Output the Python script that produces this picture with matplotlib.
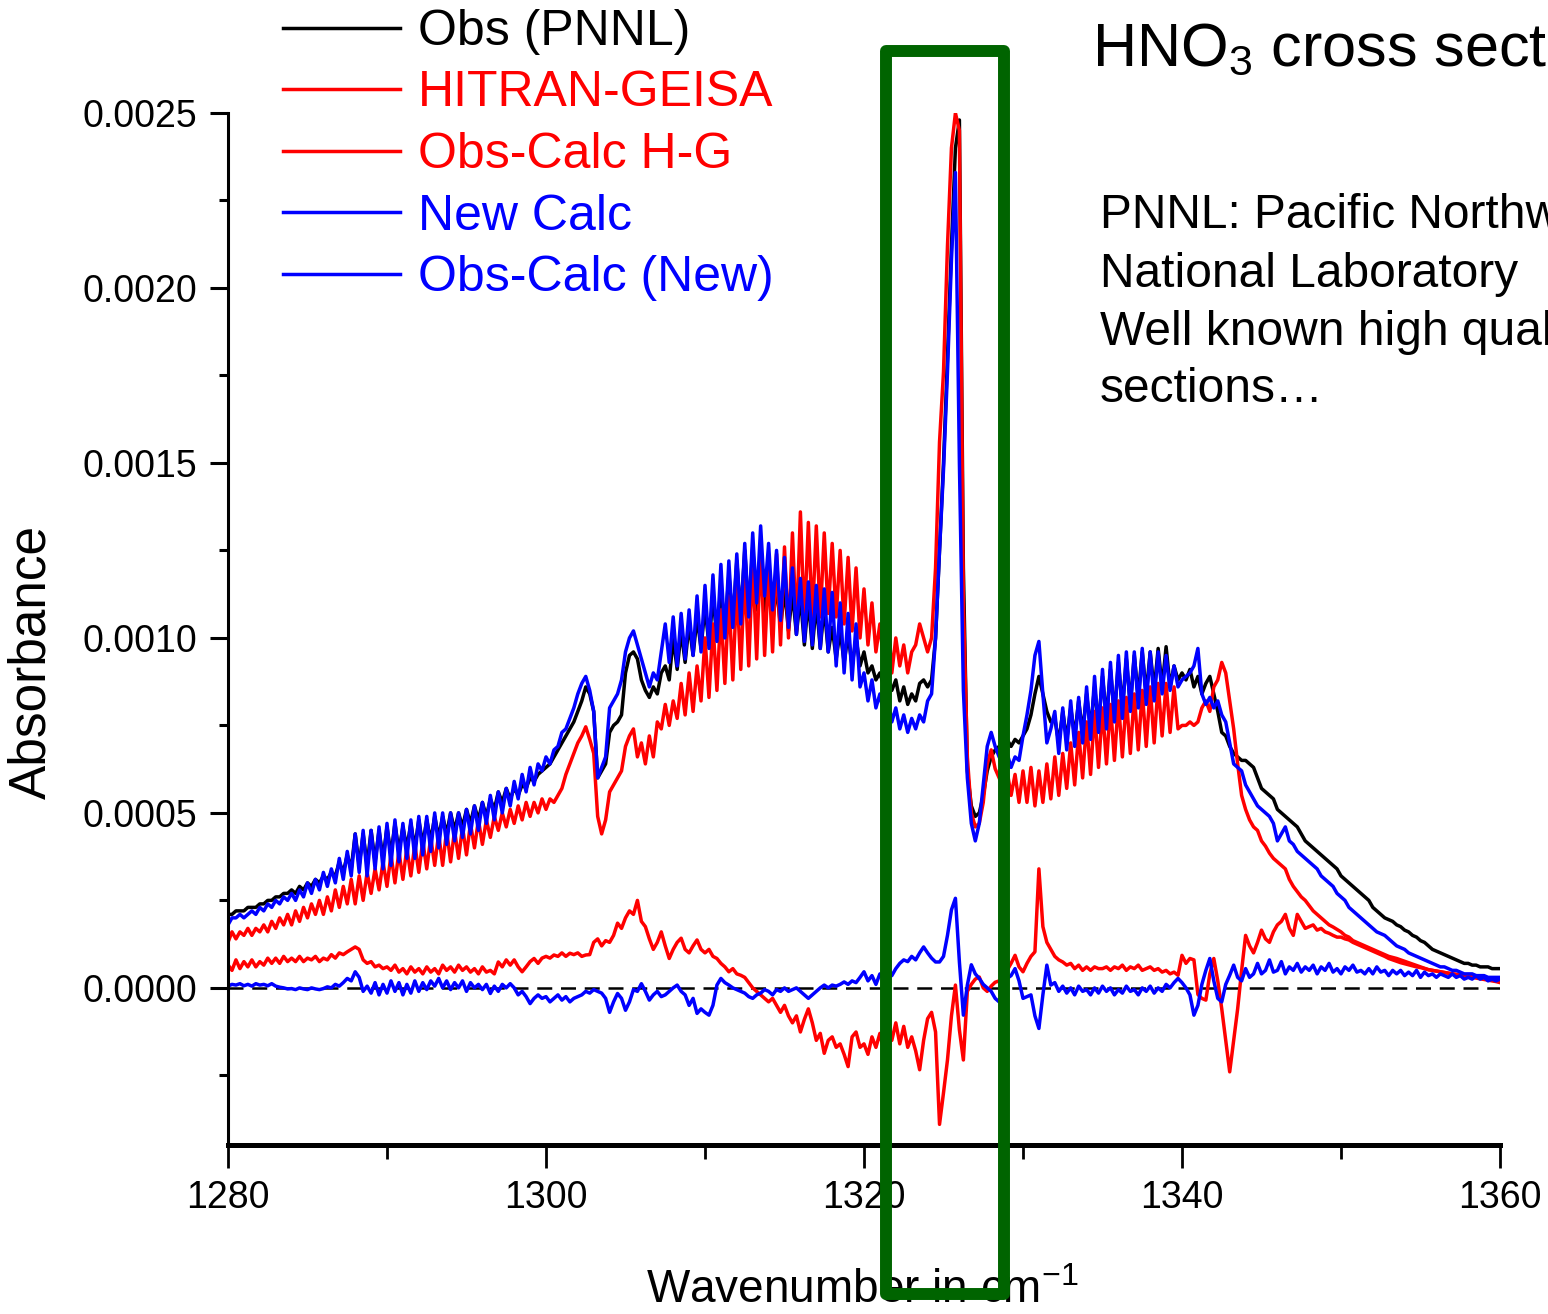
import numpy as np
import matplotlib
matplotlib.use("Agg")
import matplotlib.pyplot as plt
from matplotlib.patches import Rectangle
from matplotlib.ticker import MultipleLocator, FormatStrFormatter

plt.rcParams['font.family'] = ['Liberation Sans', 'DejaVu Sans']
plt.rcParams['mathtext.fontset'] = 'custom'
plt.rcParams['mathtext.rm'] = 'Liberation Sans'
plt.rcParams['mathtext.it'] = 'Liberation Sans:italic'
plt.rcParams['mathtext.bf'] = 'Liberation Sans:bold'

# ---------------- data (absorbance in units of 1e-5), grid: 1280 .. 1360 step 0.25 cm-1
WN_START = 1280.0
WN_STEP = 0.25

obs_pnnl = [
    21, 21, 22, 22, 22, 23, 23, 23,
    24, 24, 25, 25, 26, 26, 27, 27,
    28, 27, 29, 28, 30, 29, 31, 30,
    32, 31, 33, 32, 36, 33, 38, 34,
    44, 35, 44, 35, 45, 36, 45, 37,
    46, 38, 47, 39, 46, 40, 47, 40,
    48, 41, 48, 42, 49, 43, 49, 44,
    50, 45, 50, 46, 51, 47, 52, 48,
    53, 49, 54, 51, 56, 53, 57, 54,
    57, 55, 58, 57, 60, 59, 61, 62,
    63, 64, 66, 68, 70, 72, 74, 76,
    79, 82, 86, 84, 79, 60, 62, 64,
    73, 75, 76, 78, 90, 95, 96, 94,
    88, 85, 83, 86, 84, 90, 92, 88,
    100, 91, 102, 93, 104, 95, 106, 97,
    109, 98, 112, 100, 115, 102, 118, 104,
    122, 106, 125, 107, 126, 108, 124, 106,
    116, 104, 115, 103, 114, 102, 113, 101,
    112, 98, 111, 97, 110, 97, 109, 96,
    103, 94, 102, 93, 101, 92, 100, 92,
    96, 90, 92, 88, 90, 86, 89, 85,
    88, 82, 86, 81, 84, 82, 87, 88,
    86, 88, 100, 125, 150, 180, 212, 240,
    248, 120, 62, 52, 49, 50, 55, 62,
    66, 68, 69, 70, 71, 69, 71, 70,
    72, 74, 78, 84, 89, 84, 79, 76,
    77, 70, 79, 71, 80, 72, 82, 73,
    84, 74, 86, 75, 89, 77, 91, 78,
    93, 80, 94, 81, 95, 83, 96, 84,
    96, 85, 97, 86, 97.5, 86, 92, 88,
    90, 88, 91, 86, 89, 84, 87, 89,
    84, 79, 73, 72, 69, 67, 66, 65,
    65, 64, 63, 60, 57, 56, 55, 54,
    51, 50, 49, 48, 47, 46, 44, 42,
    41, 40, 39, 38, 37, 36, 35, 34,
    32, 31, 30, 29, 28, 27, 26, 25,
    23, 22, 21, 20, 19.5, 19, 18, 17.5,
    16.5, 16, 15, 14.5, 13.5, 13, 12, 11,
    10.5, 10, 9.5, 9, 8.5, 8, 7.5, 7,
    7, 6.5, 6.5, 6, 6, 6, 5.5, 5.5,
    5.5,
]

hitran_geisa = [
    13, 16, 14, 16, 15, 17, 15, 17,
    16, 18, 16, 19, 17, 20, 18, 21,
    18, 22, 19, 23, 20, 24, 21, 25,
    21, 26, 22, 28, 23, 29, 24, 31,
    24, 32, 25, 33, 27, 34, 28, 36,
    29, 38, 30, 39, 31, 40, 32, 41,
    33, 42, 34, 43, 35, 44, 35, 45,
    36, 45, 37, 46, 38, 47, 40, 48,
    41, 48, 43, 49, 45, 50, 46, 51,
    47, 52, 48, 53, 49, 53, 50, 54,
    51, 54, 53, 55, 57, 61, 64, 67,
    70, 72, 74.6, 71, 67, 49, 44, 48,
    56, 58, 60, 62, 69, 72, 74, 66,
    70, 64, 72, 66, 76, 74, 81, 75,
    82, 77, 87, 78, 90, 79, 92, 82,
    100, 83, 104, 85, 108, 87, 112, 88,
    115, 91, 119, 92, 122, 94, 126, 95,
    120, 96, 124, 98, 126, 100, 130, 102,
    136, 104, 133, 105, 132, 106, 130, 107,
    127, 106, 125, 104, 123, 102, 120, 100,
    114, 98, 110, 96, 104, 92, 107, 90,
    100, 92, 98, 90, 96, 98, 104, 100,
    96, 100, 120, 156, 176, 212, 240, 250,
    245, 110, 66, 50, 46, 47, 53, 64,
    68, 62.6, 60, 57, 62, 55, 61, 53,
    62, 53, 63, 52, 62, 53, 64, 54,
    66, 55, 67, 57, 70, 58, 73, 60,
    76, 61, 79, 63, 80, 64, 81, 65,
    82, 66, 83, 67, 84, 68, 85, 69,
    86, 70, 87, 72, 87, 73, 86, 74,
    75, 75, 76, 75, 76, 80, 82, 79,
    86, 88, 93, 90, 82, 74, 64, 55,
    51, 48, 46, 45, 42, 40.5, 38.5, 37,
    36, 35, 34, 31, 29, 27.5, 26, 25,
    23.5, 22, 21, 20, 19, 18, 17.4, 16.7,
    16, 15, 14.5, 13.5, 13, 12.5, 12, 11.5,
    11, 10.5, 10, 9.5, 9, 8.7, 8.4, 8,
    7.6, 7.2, 6.8, 6.4, 6, 5.6, 5.2, 5,
    4.8, 4.6, 4.4, 4.2, 4, 3.8, 3.6, 3.4,
    3.2, 3, 2.8, 2.6, 2.4, 2.2, 2, 1.8,
    1.5,
]

resid_hg = [
    6.6, 5, 8, 5.5, 7.5, 6, 8, 6,
    7.5, 6.5, 8.5, 7, 8.5, 7, 9, 7.5,
    8.5, 7.5, 9, 7.5, 8.5, 8, 9, 7.5,
    8.5, 8, 9.5, 8.5, 10, 9.5, 10.3, 11,
    11.7, 11, 8, 7, 7.5, 6, 6.5, 5.5,
    6, 5, 6.5, 4.5, 5.5, 4, 6, 4.5,
    5.5, 4, 6, 4.5, 5.5, 4, 6.5, 5,
    6, 4.5, 6.5, 5, 6, 4.5, 5.5, 4,
    6, 4.5, 5, 4, 7.4, 6, 8, 6.5,
    8, 6, 4.6, 6, 7.5, 8.4, 7, 8.5,
    9, 8.5, 9.4, 9, 10, 9, 9.9, 9.5,
    10, 9, 9.4, 9.5, 13, 14, 12, 13.5,
    13, 15, 18.5, 17, 20, 22, 21, 25,
    19, 17.5, 14, 11, 13, 16, 12, 8.4,
    11, 13, 14.2, 11, 10, 12, 13.7, 11,
    10, 11, 9, 8.4, 7, 6, 4.6, 5.5,
    4, 3.6, 3, 1.5, 0, -1, -2, -3,
    -4, -3, -5, -7, -5, -8, -10, -8,
    -12.6, -9, -6, -10, -15, -13, -18.7, -15,
    -14, -17, -16, -19, -22.5, -14, -12.6, -17,
    -16, -19, -14, -17, -13, -18, -12, -15,
    -10, -16, -11, -17, -14, -18, -23.4, -15,
    -8.8, -7, -12.6, -39, -30, -20.6, -8, 0.8,
    -12, -20.6, -1, 1, 2.5, 3.1, 0, -1,
    0.5, 1.6, 2, 3, 5, 7, 9.3, 6,
    4.6, 7, 9, 10.3, 34, 17.5, 13, 11,
    9, 8, 7.4, 6.5, 7, 5.5, 6.5, 5,
    6, 5, 6, 5.5, 5.5, 6, 5, 6,
    5.5, 6.5, 5, 6, 5.5, 6.5, 5, 5.5,
    6, 5, 5.5, 4.5, 5, 4, 4.5, 3.6,
    9.3, 7, 8.4, 8, -1.9, -3, -3.5, 4,
    8.4, 2, -6, -15, -24, -15, -6, 5,
    15, 12, 10, 13, 16.5, 14, 13, 16,
    18, 19, 21, 17, 15, 21, 19, 17,
    17.5, 18, 16.5, 17, 16, 15.6, 15, 14.5,
    14.5, 14, 13.7, 13, 12.5, 12, 11.5, 11,
    10.5, 10, 9.5, 9, 8.4, 8, 7.6, 7.2,
    6.9, 6.6, 6.3, 6, 5.8, 5.5, 5.2, 5,
    4.8, 4.6, 4.4, 4.2, 4, 3.9, 3.8, 3.7,
    3.6, 3.4, 3.2, 3, 2.8, 2.5, 2.2, 2,
    1.9,
]

new_calc = [
    18, 20, 20, 21, 20, 21, 22, 21,
    23, 22, 24, 23, 25, 24, 26, 25,
    27, 25, 28, 26, 30, 27, 31, 28,
    33, 29, 34, 30, 37, 31, 39, 32,
    44, 33, 45, 32, 45, 34, 46, 34,
    47, 35, 48, 36, 47, 37, 48, 37,
    49, 38, 49, 39, 50, 40, 50, 41,
    50, 42, 50, 43, 51, 44, 52, 45,
    53, 47, 55, 48, 56, 50, 57, 52,
    59, 54, 61, 56, 63, 58, 64, 62,
    66, 64, 68, 69, 73, 74, 77, 80,
    84, 87, 89, 85, 79, 60, 63, 66,
    80, 82, 84, 88, 96, 100, 102, 98,
    94, 90, 86, 90, 88, 96, 104, 93,
    106, 92, 107, 94, 108, 95, 112, 96,
    115, 97, 118, 99, 121, 100, 122, 103,
    124, 104, 127, 106, 130, 110, 132, 112,
    127, 108, 125, 105, 123, 103, 120, 101,
    117, 99, 116, 98, 115, 97, 114, 96,
    113, 92, 110, 90, 107, 88, 104, 86,
    90, 82, 88, 80, 84, 78, 83, 76,
    80, 74, 78, 73, 77, 74, 78, 76,
    82, 84, 100, 125, 148, 176, 208, 233,
    150, 85, 60, 47, 42, 47, 58, 69,
    73, 69, 66, 64, 67, 63, 66, 65,
    72, 78, 85, 95, 99, 84, 70, 74,
    79, 67, 80, 68, 82, 69, 83, 70,
    86, 71, 89, 73, 91, 74, 93, 76,
    95, 77, 96, 79, 96, 80, 97, 81,
    96, 82, 96, 84, 95, 85, 92, 86,
    88, 89, 90, 92, 97, 84, 81, 83,
    80, 82, 78, 76, 70, 64, 63, 62,
    58, 56, 54, 52, 51, 50, 49, 47,
    42, 44, 46, 42, 41, 39, 38, 37,
    36, 35, 34, 32, 31, 30, 29, 27,
    26, 25, 23, 22, 21, 20, 19, 18,
    17, 16, 15.5, 15, 14, 13, 12, 11.5,
    11, 10, 9.5, 9, 8.5, 8, 7.5, 7,
    6.5, 6, 6, 5.5, 5, 5, 4.5, 4,
    4, 4, 3.5, 3.5, 3.5, 3, 3, 3,
    3,
]

resid_new = [
    0.5, 1, 0.8, 1.2, 0.6, 1, 0.5, 1.2,
    0.8, 1, 0.6, 1.2, 0.5, 0.2, 0, -0.3,
    -0.2, -0.5, 0, -0.3, -0.5, 0, -0.3, -0.5,
    -0.2, 0.3, 0, 1, 0.5, 1.5, 2.7, 2,
    4.6, 3, -1, 0.5, -1.5, 1.5, -2, 1,
    -1.5, 2, -1, 1.5, -2, 1, -1.5, 2,
    -1, 1.5, -0.5, 2, 0.5, 2.7, 0, 2,
    -0.5, 1.5, 0, 2, -1, 1.5, 0, 1,
    -0.5, 1, -1.6, 0.5, -1, 1, 0, 1.2,
    0, -2, -1, -2.5, -4.5, -3, -2, -3,
    -2.5, -4, -3, -2, -3.5, -2.5, -4, -3,
    -2.5, -2, -1, -1.5, -0.5, -1, -1.5, -3,
    -7, -4, -1.6, -3, -6.4, -4, -0.5, -1,
    1.2, -1, -3.5, -2, -1, -2.5, -2, -1,
    0, 0.8, -1, -2, -5, -3, -7.3, -6,
    -7, -7.8, -5, 0.8, 2.7, 1.5, 0.8, 0,
    -0.5, -1, -1.5, -2.5, -3, -2, -1.5, -0.5,
    -1, -2, -0.5, -1, 0, -1, -0.5, 0,
    -1, -2, -3, -2, -1, 0, 0.8, 0,
    0.8, 0.5, 1, 1.7, 1, 2, 1.5, 3,
    4.6, 2, 3.5, 1, 4, 2.5, 5, 3.5,
    5.5, 7, 8, 7.5, 9, 8, 10, 11.7,
    10, 8.5, 7.4, 7.4, 9, 15, 22.3, 25.6,
    7.4, -7.8, 0.8, 6.6, 4, 2.7, 1, 0,
    -1, -3, -4, -1, 2.7, 3.5, 5.5, 2,
    -3, -2.5, -2, -8, -11.6, -2, 6.5, 0.8,
    1.5, -1, 0.5, -1.5, 0, -2, 0.5, -1,
    -0.5, -2, 0, -1.5, 0.5, -1, 0, -2,
    -0.5, -1.5, 0.5, -1, -0.5, -2, 0, -1,
    0.5, -1.5, 0, -1, 1, 0, 1.5, 2.7,
    1.5, 0, -2, -7.8, -5, 1, 5, 8.4,
    2, -3, -4, 1, 3.6, 6.5, 3, 2,
    5.5, 3, 4, 7, 4, 5, 8, 4.5,
    5, 7.5, 4, 6, 5, 7, 4.5, 6,
    5, 6.5, 4, 6, 5, 7, 4.5, 5.5,
    4, 6, 5, 6.5, 4.5, 5, 4, 5.5,
    4, 6, 4.5, 5, 3.5, 5, 4, 5,
    3.5, 4.5, 3.5, 5, 3, 4.5, 3.5, 4,
    3, 4, 3.5, 3, 4, 3, 3.5, 2.5,
    3, 2.5, 3.5, 2.5, 3, 2, 2.5, 2,
    2.5,
]

series_labels = ["Obs (PNNL)", "HITRAN-GEISA", "Obs-Calc H-G", "New Calc", "Obs-Calc (New)"]
series_colors = ["#000000", "#ff0000", "#ff0000", "#0000ff", "#0000ff"]
series_values = [obs_pnnl, hitran_geisa, resid_hg, new_calc, resid_new]

x_ticks = [1280, 1300, 1320, 1340, 1360]
y_ticks = [0.0, 0.0005, 0.0010, 0.0015, 0.0020, 0.0025]

# ---------------- figure
W, H = 1548, 1314
fig = plt.figure(figsize=(W / 100, H / 100), dpi=100)
ax = fig.add_axes([228 / W, 1 - 1145 / H, (1500 - 228) / W, (1145 - 113) / H])

ax.axhline(0, color='black', lw=1.8, dashes=(6, 3.5), zorder=1)

lines = []
for vals, col, lab in zip(series_values, series_colors, series_labels):
    y = np.asarray(vals, dtype=float) * 1e-5
    x = WN_START + WN_STEP * np.arange(len(y))
    ln, = ax.plot(x, y, color=col, lw=2.5, label=lab, zorder=2)
    lines.append(ln)

ax.set_xlim(1280, 1360)
ax.set_ylim(-0.000449, 0.0025)
ax.set_xticks(x_ticks)
ax.set_yticks(y_ticks)
ax.xaxis.set_minor_locator(MultipleLocator(10))
ax.yaxis.set_minor_locator(MultipleLocator(0.00025))
ax.yaxis.set_major_formatter(FormatStrFormatter('%.4f'))

for s in ['top', 'right']:
    ax.spines[s].set_visible(False)
ax.spines['left'].set_linewidth(2.2)
ax.spines['bottom'].set_linewidth(3.6)

ax.tick_params(axis='x', which='major', direction='out', length=16.5, width=2.0,
               labelsize=27, pad=9)
ax.tick_params(axis='x', which='minor', direction='out', length=10, width=2.0)
ax.tick_params(axis='y', which='major', direction='out', length=13, width=2.2,
               labelsize=27, pad=9)
ax.tick_params(axis='y', which='minor', direction='out', length=6.5, width=2.2)

# axis titles
fig.text(32 / W, 1 - 662 / H, "Absorbance", rotation=90, ha='center', va='center',
         fontsize=37)
fig.text(862 / W, 1 - 1303 / H, r"Wavenumber in cm$^{\mathregular{-1}}$", ha='center',
         va='baseline', fontsize=33)

# legend above the axes
leg = ax.legend(handles=lines, loc='upper left', bbox_to_anchor=(283 / W, 1 - 9 / H),
                bbox_transform=fig.transFigure, frameon=False, fontsize=36,
                handlelength=2.34, handletextpad=0.36, labelspacing=0.31,
                borderpad=0, borderaxespad=0, labelcolor='linecolor')

# annotation texts
fig.text(1092 / W, 1 - 65 / H, r"HNO$_{\mathregular{3}}$ cross sections", ha='left',
         va='baseline', fontsize=44)
para = ["PNNL: Pacific Northwest", "National Laboratory",
        "Well known high quality cross", "sections\u2026"]
for txt, base in zip(para, [228, 287, 345, 402]):
    fig.text(1100 / W, 1 - base / H, txt, ha='left', va='baseline', fontsize=34.5)

# green highlight box
rect = Rectangle((886 / W, 1 - 1294 / H), (1004 - 886) / W, (1294 - 51) / H,
                 transform=fig.transFigure, fill=False, edgecolor='#006400',
                 lw=8.6, joinstyle='round', zorder=10)
fig.add_artist(rect)

fig.savefig("out.png", dpi=100)
